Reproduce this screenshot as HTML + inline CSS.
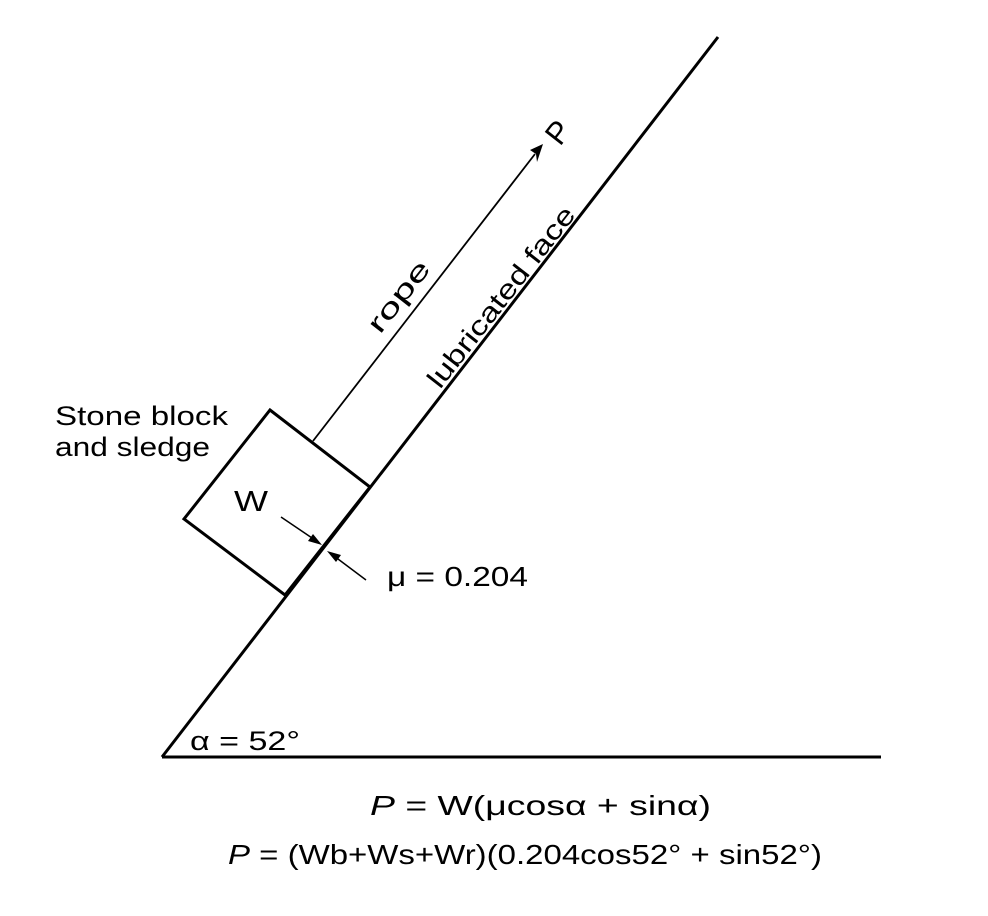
<!DOCTYPE html>
<html><head><style>
body{margin:0;background:#fff;}
svg{display:block}
text{font-family:"Liberation Sans",sans-serif;fill:#000}
</style></head><body>
<svg width="988" height="916" viewBox="0 0 988 916" xmlns="http://www.w3.org/2000/svg">
<g stroke="#000" fill="none">
<line x1="162" y1="757" x2="718" y2="37" stroke-width="3"/>
<line x1="162" y1="757" x2="881" y2="757" stroke-width="3"/>
<polygon points="270,410 370,487 285,595 184,519" stroke-width="3"/>
<line x1="313" y1="441" x2="535" y2="154" stroke-width="1.8"/>
<line x1="281" y1="517" x2="315" y2="540" stroke-width="1.5"/>
<line x1="366" y1="580" x2="334" y2="556" stroke-width="1.5"/>
</g>
<g fill="#000">
<polygon points="543,144 530,150 536,154 537,162"/>
<polygon points="322,545 308,541 313,534"/>
<polygon points="327,551 341,555 336,562"/>
</g>
<text x="560" y="147" font-size="31" transform="rotate(-52 560 147)">P</text>
<text x="380" y="335" font-size="27" textLength="84" lengthAdjust="spacingAndGlyphs" transform="rotate(-52 380 335)">rope</text>
<text x="440" y="390" font-size="27" textLength="222" lengthAdjust="spacingAndGlyphs" transform="rotate(-52 440 390)">lubricated face</text>
<text x="55" y="425" font-size="27" textLength="173" lengthAdjust="spacingAndGlyphs">Stone block</text>
<text x="55" y="456" font-size="27" textLength="155" lengthAdjust="spacingAndGlyphs">and sledge</text>
<text x="234" y="511" font-size="29" textLength="34" lengthAdjust="spacingAndGlyphs">W</text>
<text x="387" y="586" font-size="28" textLength="141" lengthAdjust="spacingAndGlyphs">μ = 0.204</text>
<text x="190" y="750" font-size="27" textLength="110" lengthAdjust="spacingAndGlyphs">α = 52°</text>
<text x="370" y="815" font-size="28" textLength="341" lengthAdjust="spacingAndGlyphs"><tspan font-style="italic">P</tspan> = W(μcosα + sinα)</text>
<text x="228" y="864" font-size="28" textLength="594" lengthAdjust="spacingAndGlyphs"><tspan font-style="italic">P</tspan> = (Wb+Ws+Wr)(0.204cos52° + sin52°)</text>
</svg>
</body></html>
